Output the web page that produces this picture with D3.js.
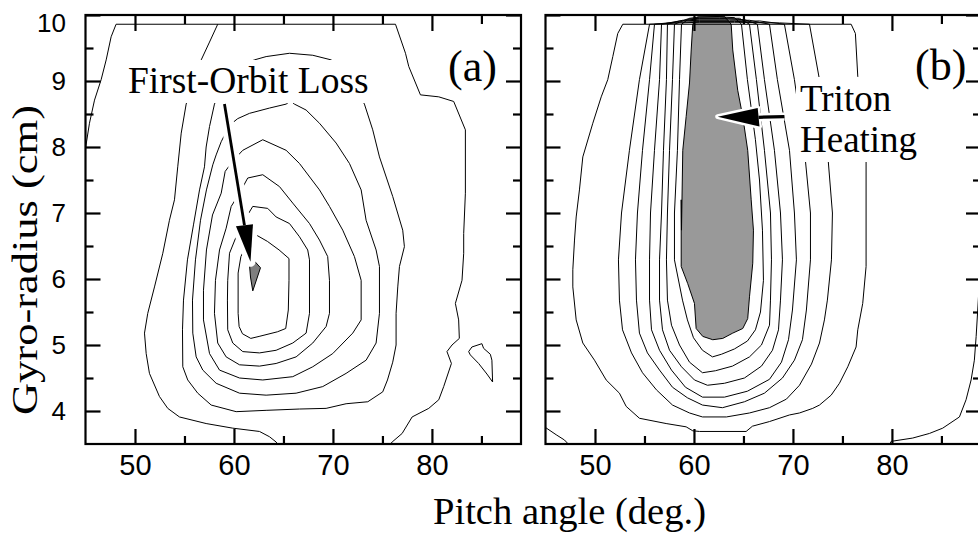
<!DOCTYPE html>
<html><head><meta charset="utf-8">
<script src="https://cdn.jsdelivr.net/npm/d3@7"></script>
<style>body{margin:0;background:#fff}svg{display:block}</style>
</head><body>
<svg id="c" width="978" height="535"></svg>
<script>
// ---------------- data ----------------
const pitchDomain = [45, 89];
const gyroDomain = [3.5, 10];
const xMajorTicks = [50, 60, 70, 80];
const xMinorTicks = [55, 65, 75, 85];
const yMajorTicks = [4, 5, 6, 7, 8, 9, 10];
const yMinorTicks = [4.5, 5.5, 6.5, 7.5, 8.5, 9.5];
const xLabel = "Pitch angle (deg.)";
const yLabel = "Gyro-radius (cm)";

// panel (a) contours: [pitch (deg), gyro-radius (cm)]
const aOuter = [[45.0,7.98],[45.40,8.36],[45.91,8.71],[46.58,9.02],[47.09,9.32],[47.59,9.67],[48.09,9.86],[76.32,9.86],[77.33,9.42],[77.66,9.22],[78.84,8.79],[80.69,8.76],[82.20,8.69],[83.38,8.26],[83.38,7.30],[83.21,6.69],[83.21,6.39],[83.04,5.98],[82.37,5.63],[82.70,5.38],[82.77,5.10],[82.03,5.00],[81.52,4.90],[81.97,4.72],[81.19,4.37],[80.69,4.17],[79.68,4.04],[78.00,3.91],[76.99,3.66],[75.98,3.53],[75.8,3.5]];
const aIsland = [[83.71,4.90],[84.04,4.97],[85.05,5.02],[85.22,4.95],[85.90,4.86],[86.06,4.77],[86.13,4.44],[85.56,4.56],[84.72,4.72],[83.88,4.85]];
const aSecond = [[58.36,9.86],[57.53,9.59],[56.69,9.32],[55.91,8.98],[55.17,8.65],[54.67,8.21],[54.32,7.70],[53.99,7.20],[53.48,6.89],[52.81,6.39],[51.97,5.88],[51.29,5.48],[50.96,5.18],[51.13,4.87],[51.46,4.57],[52.47,4.22],[53.31,4.04],[54.49,3.91],[57.19,3.81],[59.88,3.74],[62.58,3.69],[63.59,3.61],[64.26,3.53],[64.4,3.5]];
const aLoop6 = [[54.83,4.67],[54.80,5.23],[54.90,5.68],[55.30,6.29],[55.91,6.82],[56.52,7.35],[57.02,7.70],[57.19,8.00],[57.53,8.31],[58.03,8.65],[59.04,8.98],[60.56,9.23],[62.07,9.32],[63.25,9.37],[65.61,9.42],[67.96,9.39],[69.82,9.32],[71.67,9.05],[73.18,8.65],[74.02,8.26],[74.70,7.85],[76.04,7.25],[77.05,6.74],[77.22,6.49],[76.72,6.19],[76.55,5.88],[76.38,5.48],[76.38,5.00],[76.04,4.74],[75.51,4.47],[75.03,4.29],[73.52,4.14],[71.33,4.11],[69.31,4.04],[66.62,4.03],[63.25,4.01],[60.22,3.99],[57.70,4.09],[56.34,4.27],[55.33,4.47]];
const aLoop5 = [[56.85,4.62],[56.18,4.82],[55.84,5.18],[55.81,5.68],[56.11,6.29],[56.62,6.89],[57.22,7.35],[57.86,7.73],[58.20,7.88],[58.71,8.08],[59.55,8.33],[60.38,8.43],[61.57,8.51],[63.59,8.59],[65.27,8.65],[65.71,8.70],[66.11,8.65],[67.29,8.56],[68.64,8.36],[70.32,8.06],[71.67,7.75],[72.85,7.35],[73.35,6.89],[74.36,6.44],[74.70,6.19],[74.70,5.48],[74.36,5.03],[73.35,4.77],[71.33,4.57],[68.97,4.37],[66.28,4.27],[63.25,4.24],[60.56,4.27],[58.20,4.42]];
const aLoop4 = [[59.11,7.63],[59.95,7.80],[60.89,7.95],[62.91,8.11],[65.27,7.95],[66.62,7.75],[68.64,7.35],[69.65,7.10],[70.99,6.74],[72.17,6.34],[72.85,5.98],[72.85,5.38],[72.00,5.18],[69.98,4.87],[67.96,4.67],[65.94,4.52],[62.91,4.47],[60.56,4.50],[58.54,4.62],[57.53,4.87],[56.92,5.38],[56.92,5.83],[57.22,6.44],[57.83,6.97],[58.71,7.30]];
const aLoop3 = [[59.72,7.10],[60.56,7.30],[61.39,7.53],[62.91,7.58],[64.60,7.40],[65.94,7.15],[67.63,6.84],[68.64,6.59],[69.47,6.34],[69.65,5.98],[69.65,5.48],[69.31,5.28],[67.96,5.03],[66.28,4.82],[64.26,4.72],[62.58,4.68],[60.56,4.70],[59.21,4.82],[58.36,5.03],[58.03,5.48],[58.13,5.98],[58.54,6.44],[59.21,6.77]];
const aLoop2 = [[60.22,6.64],[61.06,6.89],[61.90,7.10],[63.41,7.07],[64.26,6.94],[65.61,6.84],[66.62,6.64],[67.45,6.44],[67.63,6.29],[67.63,5.48],[67.29,5.18],[65.94,5.03],[64.26,4.92],[62.58,4.88],[60.89,4.90],[59.88,5.03],[59.37,5.23],[59.34,5.68],[59.37,5.98],[59.55,6.39]];
const aLoop1 = [[61.70,6.64],[62.21,6.67],[63.38,6.57],[64.56,6.44],[65.56,6.31],[65.56,5.98],[65.49,5.53],[65.23,5.25],[64.39,5.20],[62.54,5.13],[61.70,5.10],[60.86,5.17],[60.52,5.28],[60.42,5.48],[60.42,6.09],[60.70,6.34],[61.20,6.49]];
const aLossPatch = [[61.57,6.21],[62.14,6.26],[62.68,6.17],[61.90,5.82],[61.67,6.03]];

// panel (b) contours
const bOuter = [[52.81,9.86],[52.30,9.72],[51.80,9.37],[51.29,9.02],[50.63,8.76],[49.78,8.36],[48.77,7.85],[48.43,7.35],[48.10,6.94],[47.93,6.59],[47.76,6.14],[47.76,5.88],[48.10,5.38],[48.77,5.03],[49.95,4.77],[51.13,4.47],[52.47,4.27],[53.15,4.07],[54.49,3.89],[57.19,3.81],[59.21,3.76],[59.88,3.70],[60.56,3.69],[65.27,3.69],[65.91,3.77],[67.63,3.84],[69.65,3.94],[70.66,3.97],[72.00,4.04],[72.68,4.09],[73.86,4.24],[74.70,4.42],[75.54,4.67],[76.38,4.97],[76.55,5.23],[77.05,5.63],[77.39,6.19],[77.39,7.78],[77.02,8.41],[76.55,9.07],[76.31,9.72],[75.88,9.86]];
const bLoop6 = [[55.51,9.86],[54.49,9.02],[53.48,7.95],[52.68,7.00],[52.37,6.29],[52.47,5.68],[52.78,5.23],[53.69,4.88],[54.80,4.58],[56.21,4.32],[57.83,4.09],[59.55,3.97],[60.86,3.91],[63.28,3.91],[65.61,3.97],[67.63,4.05],[69.34,4.18],[70.66,4.39],[71.87,4.71],[72.68,5.03],[73.18,5.38],[73.48,5.68],[73.89,6.29],[73.99,7.00],[73.48,7.95],[72.68,9.02],[71.67,9.86],[68.64,9.88],[64.09,9.89],[60.56,9.89],[58.54,9.88]];
const bLoop5 = [[56.01,9.86],[55.51,9.02],[54.80,7.95],[54.29,7.00],[54.09,6.29],[54.19,5.68],[54.49,5.18],[55.30,4.88],[56.52,4.62],[57.83,4.36],[59.34,4.20],[60.86,4.09],[62.88,4.05],[65.10,4.14],[67.12,4.27],[68.94,4.50],[70.15,4.77],[70.96,5.08],[71.36,5.53],[71.77,6.29],[71.77,7.00],[71.16,7.95],[70.15,9.02],[69.14,9.86],[66.62,9.91],[64.09,9.90],[60.56,9.90],[58.03,9.89]];
const bLoop4 = [[56.72,9.86],[56.52,9.02],[56.01,7.95],[55.61,7.00],[55.51,6.29],[55.51,5.68],[55.71,5.23],[56.52,4.92],[57.73,4.62],[59.14,4.36],[60.86,4.21],[63.08,4.21],[65.40,4.30],[67.63,4.48],[68.84,4.74],[69.55,5.08],[69.95,5.53],[70.35,6.29],[70.15,7.00],[69.65,7.95],[68.43,9.02],[67.63,9.86],[65.61,9.92],[63.59,9.92],[60.56,9.92],[58.54,9.91]];
const bLoop3 = [[57.32,9.86],[57.22,9.02],[56.92,7.95],[56.72,7.00],[56.52,6.29],[56.52,5.68],[56.82,5.23],[57.53,4.92],[58.74,4.67],[60.05,4.47],[61.36,4.39],[63.08,4.42],[65.10,4.50],[66.82,4.68],[67.93,4.92],[68.54,5.23],[68.74,5.68],[68.94,6.29],[68.74,7.00],[68.13,7.95],[67.12,9.02],[66.41,9.86],[65.10,9.93],[63.08,9.94],[60.56,9.94],[58.84,9.92]];
const bLoop2 = [[58.03,9.86],[57.83,9.02],[57.53,7.95],[57.32,7.00],[57.22,6.29],[57.32,5.68],[57.73,5.30],[58.54,5.00],[59.55,4.74],[60.86,4.58],[62.17,4.61],[63.89,4.68],[65.61,4.82],[66.82,5.00],[67.63,5.30],[67.73,5.68],[67.83,6.29],[67.73,7.00],[67.12,7.95],[66.31,9.02],[65.61,9.86],[64.60,9.95],[62.58,9.95],[60.56,9.95],[59.34,9.94]];
const bLoop1 = [[58.74,9.86],[58.54,9.02],[58.33,7.95],[58.03,7.00],[58.03,6.29],[58.84,5.68],[59.34,5.38],[59.95,5.11],[60.86,4.92],[61.87,4.82],[62.78,4.86],[64.09,4.94],[65.40,5.06],[66.21,5.23],[66.72,5.50],[67.02,5.98],[66.92,6.74],[66.62,7.50],[66.21,8.11],[65.40,9.02],[64.80,9.86],[64.09,9.96],[62.58,9.97],[60.56,9.97],[59.55,9.95]];
const bHeatPatch = [[59.88,9.86],[60.35,9.97],[63.08,9.98],[63.76,9.86],[63.92,9.47],[64.42,8.86],[64.93,8.46],[65.43,7.95],[65.78,7.20],[66.01,6.74],[65.94,6.24],[65.61,5.73],[65.43,5.40],[64.93,5.25],[63.92,5.18],[62.91,5.10],[61.90,5.08],[60.89,5.13],[60.22,5.25],[60.05,5.63],[59.37,5.93],[58.71,6.19],[58.71,7.20],[58.74,6.74],[58.87,7.95],[59.21,8.46],[59.55,8.97],[59.72,9.47]];
const bCornerLeft = [[45.0,3.75],[46.08,3.64],[46.92,3.56],[47.3,3.50]];
const bCornerRight = [[79.8,3.50],[79.92,3.54],[82.10,3.59],[83.79,3.66],[85.13,3.74],[86.82,3.91],[87.49,4.17],[88.00,4.47],[88.33,4.77],[88.51,5.13],[88.67,5.53],[88.84,5.98],[88.94,6.44]];

// annotation arrows (data coordinates)
const lossArrow = {from:[59.04,8.65], tip:[61.67,6.26], baseL:[60.20,6.80], baseR:[61.92,6.83]};
const heatArrow = {from:[69.14,8.46], tip:[62.40,8.46], baseL:[66.44,8.59], baseR:[66.62,8.31]};

// ---------------- drawing ----------------
const svg = d3.select('#c');
const yS = d3.scaleLinear().domain(gyroDomain).range([444, 15]);
const panels = [
  {id:'a', range:[85.5, 521]},
  {id:'b', range:[545.5, 981]}
];
panels.forEach(p => { p.x = d3.scaleLinear().domain(pitchDomain).range(p.range); });
const defs = svg.append('defs');
panels.forEach(p => {
  defs.append('clipPath').attr('id','clip-'+p.id).append('rect')
    .attr('x', p.range[0]).attr('y', 15).attr('width', p.range[1]-p.range[0]).attr('height', 444-15);
});

function drawPanel(P, fills, closed, open) {
  const g = svg.append('g').attr('clip-path', `url(#clip-${P.id})`);
  const line = d3.line().x(d => P.x(d[0])).y(d => yS(d[1]));
  fills.forEach(f => g.append('path').attr('d', line(f.data) + 'Z')
    .attr('fill', f.color).attr('stroke', '#000').attr('stroke-width', 1));
  closed.forEach(c => g.append('path').attr('d', line(c) + 'Z')
    .attr('fill', 'none').attr('stroke', '#000').attr('stroke-width', 1));
  open.forEach(c => g.append('path').attr('d', line(c))
    .attr('fill', 'none').attr('stroke', '#000').attr('stroke-width', 1));
  return g;
}

const A = panels[0], B = panels[1];
drawPanel(A, [{data: aLossPatch, color: '#7f7f7f'}],
  [aLoop6, aLoop5, aLoop4, aLoop3, aLoop2, aLoop1, aIsland], [aOuter, aSecond]);
drawPanel(B, [{data: bHeatPatch, color: '#999999'}],
  [bOuter, bLoop6, bLoop5, bLoop4, bLoop3, bLoop2, bLoop1], [bCornerLeft, bCornerRight]);

const serif = "'Liberation Serif','Times New Roman',Times,serif";
const sans = "'Liberation Sans',Arial,Helvetica,sans-serif";

function boxedText(parent, lines, x, fontSize, padX, padTop, padBot) {
  const t = parent.append('g');
  const rect = t.append('rect').attr('fill', '#fff');
  const txts = lines.map(l => t.append('text').attr('x', x).attr('y', l.y)
    .attr('font-family', serif).attr('font-size', fontSize).attr('fill', '#000').text(l.s));
  let x0=Infinity,y0=Infinity,x1=-Infinity,y1=-Infinity;
  txts.forEach(tt => { const b = tt.node().getBBox(); x0=Math.min(x0,b.x); y0=Math.min(y0,b.y); x1=Math.max(x1,b.x+b.width); y1=Math.max(y1,b.y+b.height); });
  rect.attr('x', x0-padX).attr('y', y0-padTop).attr('width', x1-x0+2*padX).attr('height', y1-y0+padTop+padBot);
  return t;
}

function arrow(parent, P, ar, lw, halo) {
  const g = parent.append('g');
  const f = [P.x(ar.from[0]), yS(ar.from[1])];
  const t = [P.x(ar.tip[0]), yS(ar.tip[1])];
  const bl = [P.x(ar.baseL[0]), yS(ar.baseL[1])];
  const br = [P.x(ar.baseR[0]), yS(ar.baseR[1])];
  const bm = [(bl[0]+br[0])/2, (bl[1]+br[1])/2];
  const tri = `M${bl}L${t}L${br}Z`;
  g.append('line').attr('x1', f[0]).attr('y1', f[1]).attr('x2', bm[0]).attr('y2', bm[1])
    .attr('stroke', '#fff').attr('stroke-width', lw + 2*halo);
  g.append('path').attr('d', tri).attr('fill', '#fff').attr('stroke', '#fff')
    .attr('stroke-width', 2*halo).attr('stroke-linejoin', 'round');
  g.append('line').attr('x1', f[0]).attr('y1', f[1]).attr('x2', bm[0]).attr('y2', bm[1])
    .attr('stroke', '#000').attr('stroke-width', lw);
  g.append('path').attr('d', tri).attr('fill', '#000');
}

boxedText(svg, [{s: 'First-Orbit Loss', y: 93}], 128, 37.5, 3, 0, 2);
arrow(svg, A, lossArrow, 2.8, 5);
boxedText(svg, [{s: 'Triton', y: 111}, {s: 'Heating', y: 152}], 800, 37, 4, 1, 2);
arrow(svg, B, heatArrow, 3.2, 2.5);

svg.append('text').attr('x', 448).attr('y', 81).attr('font-family', serif).attr('font-size', 44).text('(a)');
svg.append('text').attr('x', 915).attr('y', 80).attr('font-family', serif).attr('font-size', 44).text('(b)');

// frames and ticks
panels.forEach((P, i) => {
  const x0 = P.range[0], x1 = P.range[1];
  const styleAxis = (sel, fs) => {
    sel.select('.domain').remove();
    sel.selectAll('.tick line').attr('stroke', '#000').attr('stroke-width', 2.2);
    sel.selectAll('.tick text').attr('font-family', sans).attr('font-size', fs || 24).attr('fill', '#000');
  };
  // bottom
  svg.append('g').attr('transform', 'translate(0,444)')
    .call(d3.axisBottom(P.x).tickValues(xMajorTicks).tickSize(-15).tickPadding(10).tickFormat(d3.format('d')))
    .call(s => styleAxis(s, 29));
  svg.append('g').attr('transform', 'translate(0,444)')
    .call(d3.axisBottom(P.x).tickValues(xMinorTicks).tickSize(-8).tickFormat('')).call(s => styleAxis(s));
  // top
  svg.append('g').attr('transform', 'translate(0,15)')
    .call(d3.axisTop(P.x).tickValues(xMajorTicks).tickSize(-16).tickFormat('')).call(s => styleAxis(s));
  svg.append('g').attr('transform', 'translate(0,15)')
    .call(d3.axisTop(P.x).tickValues(xMinorTicks).tickSize(-9).tickFormat('')).call(s => styleAxis(s));
  // left
  const left = svg.append('g').attr('transform', `translate(${x0},0)`)
    .call(d3.axisLeft(yS).tickValues(yMajorTicks).tickSize(-15).tickPadding(x0 - 66)
      .tickFormat(i === 0 ? d3.format('d') : ''))
    .call(s => styleAxis(s, 26));
  // the top label sits just below the frame corner
  left.selectAll('.tick text').filter(d => d === 10).attr('dy', '0.62em');
  svg.append('g').attr('transform', `translate(${x0},0)`)
    .call(d3.axisLeft(yS).tickValues(yMinorTicks).tickSize(-8).tickFormat('')).call(s => styleAxis(s));
  // right
  svg.append('g').attr('transform', `translate(${x1},0)`)
    .call(d3.axisRight(yS).tickValues(yMajorTicks).tickSize(-15).tickFormat('')).call(s => styleAxis(s));
  svg.append('g').attr('transform', `translate(${x1},0)`)
    .call(d3.axisRight(yS).tickValues(yMinorTicks).tickSize(-8).tickFormat('')).call(s => styleAxis(s));
  // frame
  svg.append('rect').attr('x', x0).attr('y', 15).attr('width', x1 - x0).attr('height', 444 - 15)
    .attr('fill', 'none').attr('stroke', '#000').attr('stroke-width', 2.2);
});

// axis titles
svg.append('text').attr('x', 433).attr('y', 524).attr('font-family', serif).attr('font-size', 38)
  .attr('textLength', 273).attr('lengthAdjust', 'spacingAndGlyphs').text(xLabel);
svg.append('text').attr('transform', 'translate(37,260) rotate(-90)').attr('text-anchor', 'middle')
  .attr('font-family', serif).attr('font-size', 36)
  .attr('textLength', 310).attr('lengthAdjust', 'spacingAndGlyphs').text(yLabel);
</script>
</body></html>
